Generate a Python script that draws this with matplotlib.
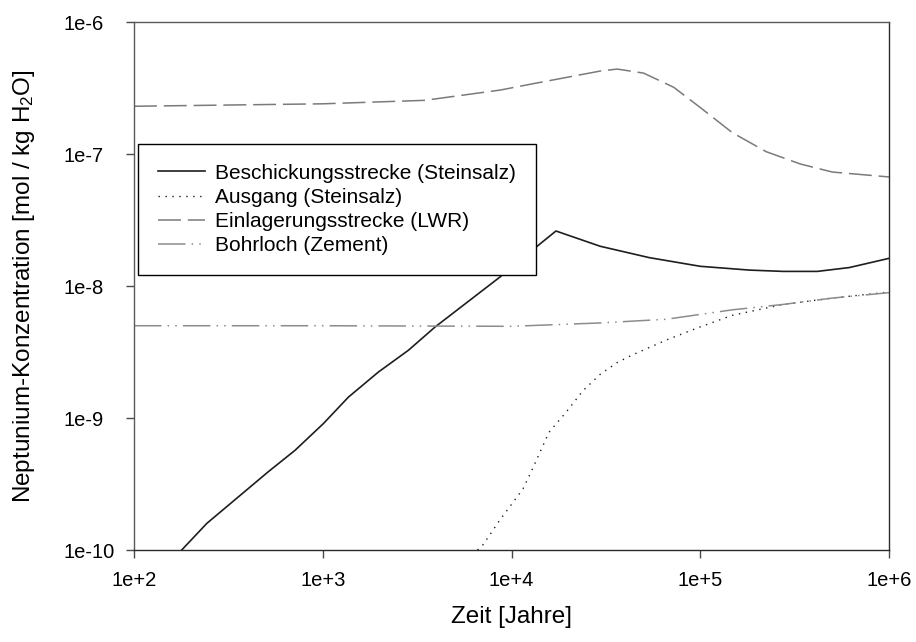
import matplotlib
matplotlib.use("Agg")
import matplotlib.pyplot as plt
from matplotlib.ticker import FixedLocator, FixedFormatter, NullLocator

plt.rcParams['font.family'] = ['Liberation Sans', 'DejaVu Sans']
plt.rcParams['mathtext.fontset'] = 'custom'
plt.rcParams['mathtext.rm'] = 'Liberation Sans'
plt.rcParams['mathtext.it'] = 'Liberation Sans'
plt.rcParams['mathtext.default'] = 'regular'

# Beschickungsstrecke (Steinsalz)
t_besch = [179, 243, 515, 713, 1007, 1368, 1972, 2844, 3936, 8690, 12600, 17200,
           29500, 53700, 100000, 182000, 275000, 417000, 617000, 1000000]
c_besch = [1.0e-10, 1.59e-10, 3.92e-10, 5.69e-10, 9.06e-10, 1.44e-9, 2.23e-9,
           3.26e-9, 4.89e-9, 1.17e-8, 1.82e-8, 2.61e-8, 2.0e-8, 1.64e-8, 1.41e-8,
           1.32e-8, 1.29e-8, 1.29e-8, 1.38e-8, 1.62e-8]

# Ausgang (Steinsalz)
t_ausg = [6600, 7080, 8710, 11500, 12900, 15800, 19500, 24000, 29500, 36300,
          43600, 66100, 100000, 148000, 275000, 501000, 1000000]
c_ausg = [1.0e-10, 1.1e-10, 1.7e-10, 2.9e-10, 4.1e-10, 7.8e-10, 1.11e-9, 1.62e-9,
          2.14e-9, 2.63e-9, 3.0e-9, 3.9e-9, 4.9e-9, 6.0e-9, 7.25e-9, 8.1e-9, 9.0e-9]

# Einlagerungsstrecke (LWR)
t_lwr = [100, 1000, 3470, 8710, 12900, 19500, 29500, 36300, 50100, 72400,
         100000, 148000, 224000, 339000, 501000, 1000000]
c_lwr = [2.3e-7, 2.4e-7, 2.55e-7, 3.05e-7, 3.4e-7, 3.8e-7, 4.25e-7, 4.4e-7,
         4.1e-7, 3.2e-7, 2.25e-7, 1.45e-7, 1.04e-7, 8.4e-8, 7.3e-8, 6.7e-8]

# Bohrloch (Zement)
t_bohr = [100, 1000, 10000, 29500, 66100, 148000, 275000, 501000, 1000000]
c_bohr = [5.0e-9, 5.0e-9, 4.95e-9, 5.25e-9, 5.6e-9, 6.6e-9, 7.25e-9, 8.1e-9, 8.9e-9]

x_ticks = [1e2, 1e3, 1e4, 1e5, 1e6]
x_labels = ["1e+2", "1e+3", "1e+4", "1e+5", "1e+6"]
y_ticks = [1e-10, 1e-9, 1e-8, 1e-7, 1e-6]
y_labels = ["1e-10", "1e-9", "1e-8", "1e-7", "1e-6"]

fig = plt.figure(figsize=(9.16, 6.42), dpi=100)
ax = fig.add_axes([134 / 916, 1 - 550 / 642, 755 / 916, 528 / 642])

ax.plot(t_besch, c_besch, color='#1e1e1e', lw=1.2, ls='-',
        label='Beschickungsstrecke (Steinsalz)')
ax.plot(t_ausg, c_ausg, color='#1e1e1e', lw=1.0, ls=(0, (1, 4)),
        label='Ausgang (Steinsalz)')
ax.plot(t_lwr, c_lwr, color='#7a7a7a', lw=1.1, ls=(0, (15, 4.5)),
        label='Einlagerungsstrecke (LWR)')
ax.plot(t_bohr, c_bohr, color='#8c8c8c', lw=1.1, ls=(0, (18, 4, 1, 4, 1, 4)),
        label='Bohrloch (Zement)')

ax.set_xscale('log')
ax.set_yscale('log')
ax.set_xlim(1e2, 1e6)
ax.set_ylim(1e-10, 1e-6)

ax.xaxis.set_major_locator(FixedLocator(x_ticks))
ax.xaxis.set_major_formatter(FixedFormatter(x_labels))
ax.xaxis.set_minor_locator(NullLocator())
ax.yaxis.set_major_locator(FixedLocator(y_ticks))
ax.yaxis.set_major_formatter(FixedFormatter(y_labels))
ax.yaxis.set_minor_locator(NullLocator())

for side in ('top', 'left'):
    ax.spines[side].set_color('#5a5a5a')
for side in ('bottom', 'right'):
    ax.spines[side].set_color('#2a2a2a')
for sp in ax.spines.values():
    sp.set_linewidth(1.0)

ax.tick_params(axis='both', direction='out', length=6, width=1.0,
               color='#4a4a4a', labelsize=14.5, labelcolor='black')
ax.tick_params(axis='x', pad=9)
ax.tick_params(axis='y', pad=45)
for lab in ax.get_yticklabels():
    lab.set_horizontalalignment('left')

ax.set_xlabel('Zeit [Jahre]', fontsize=17.5, labelpad=12)
ax.set_ylabel('Neptunium-Konzentration [mol / kg H$_2$O]', fontsize=17.5, labelpad=19)

leg = ax.legend(loc='upper left', bbox_to_anchor=(0.005, 0.769), fontsize=15,
                frameon=True, fancybox=False, edgecolor='black', framealpha=1,
                handlelength=2.3, handletextpad=0.45, borderpad=0.95,
                labelspacing=0.25, borderaxespad=0)
leg.get_frame().set_linewidth(1.0)

fig.savefig('out.png', dpi=100)
